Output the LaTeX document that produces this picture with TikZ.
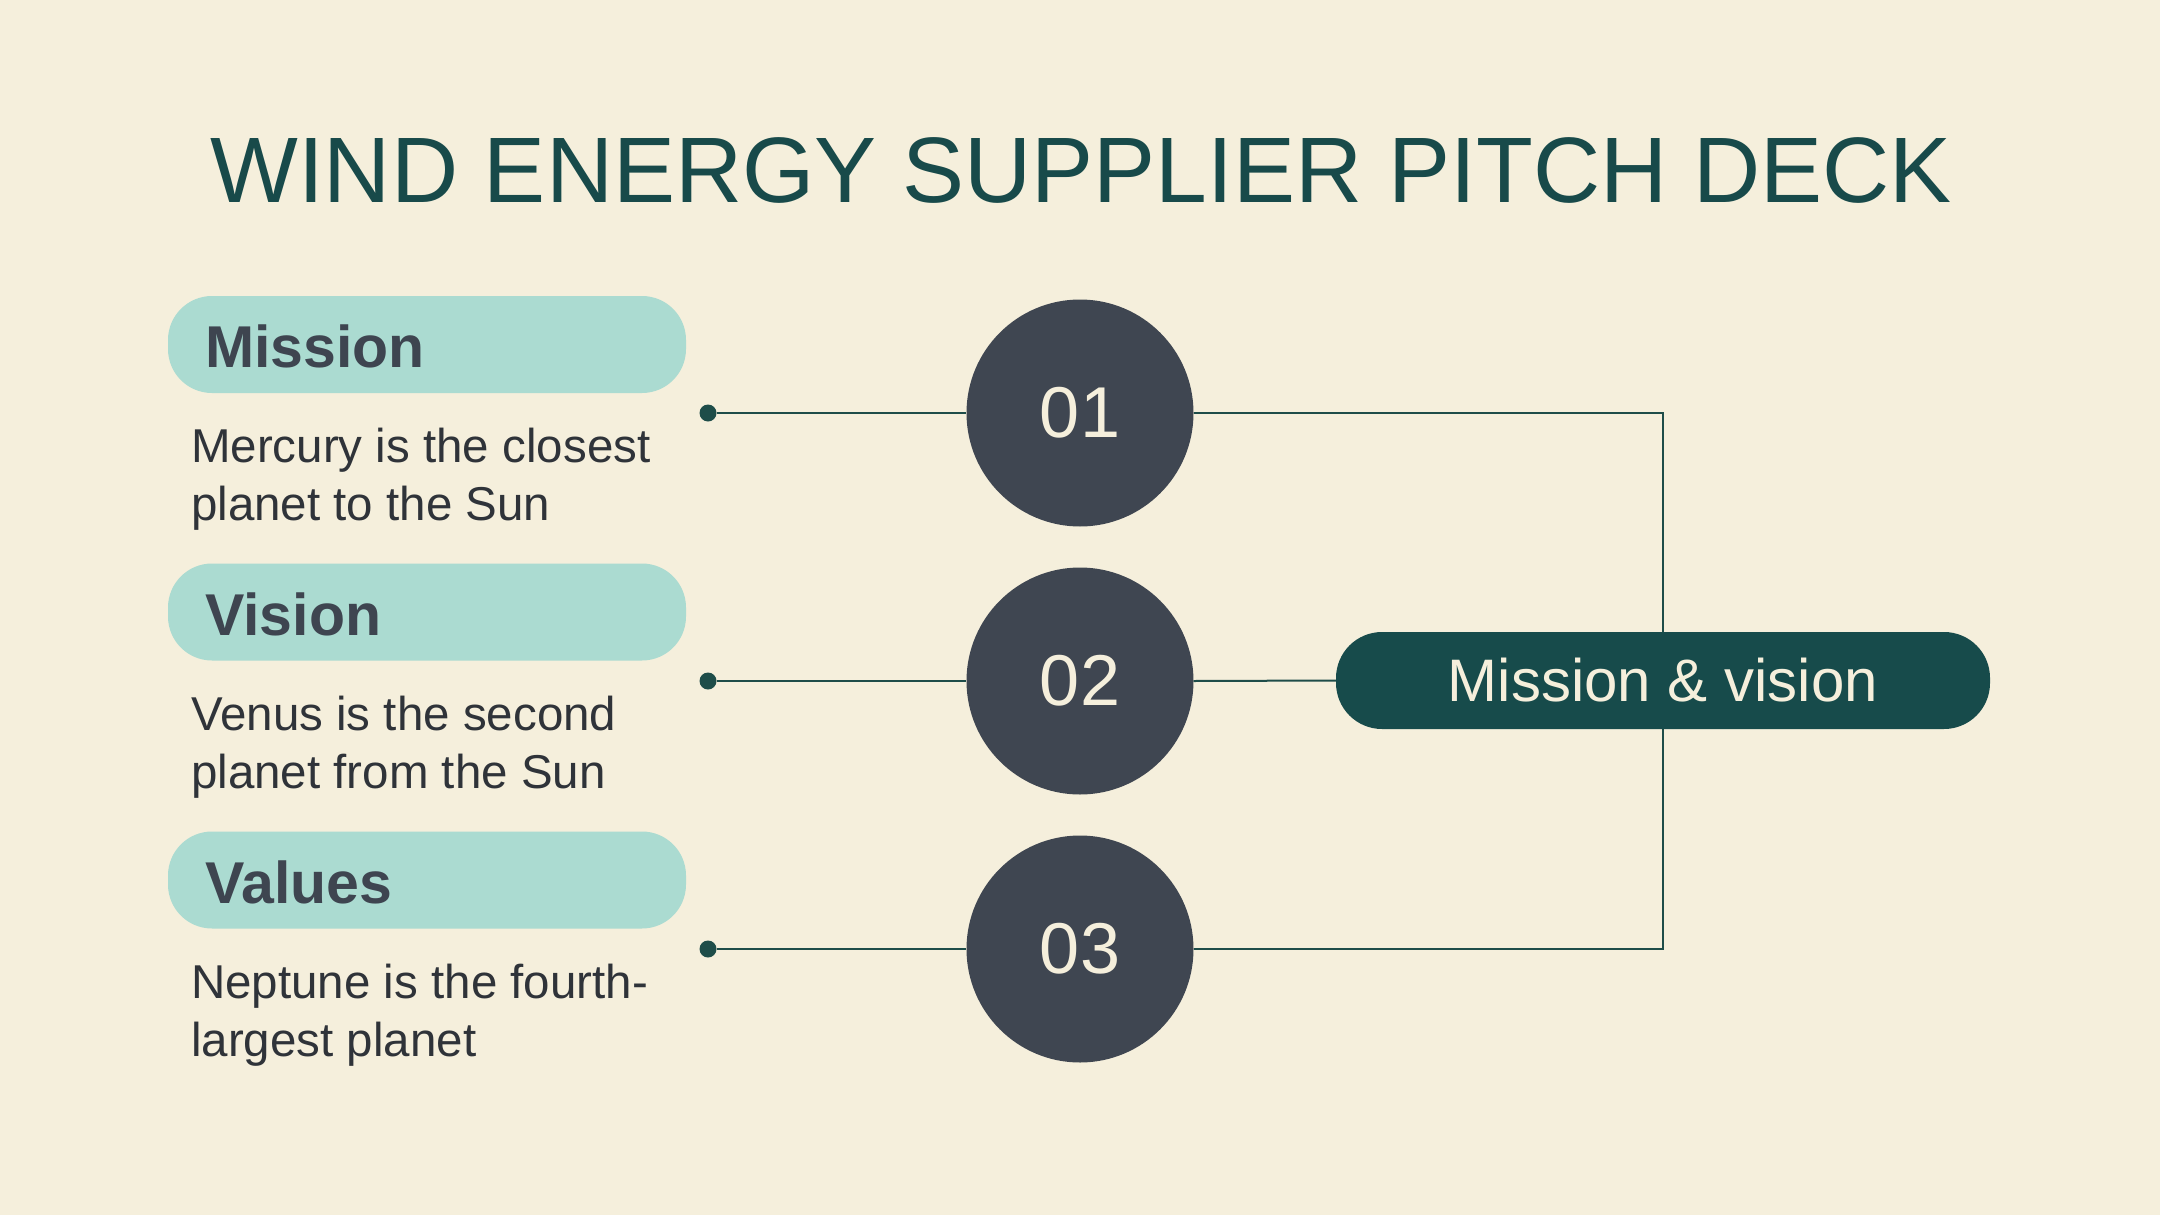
\documentclass[tikz,border=0pt]{standalone}
\usepackage{fontspec}
\setmainfont{Liberation Sans}
\definecolor{bgc}{HTML}{F5EFDC}
\definecolor{titlec}{HTML}{184A4A}
\definecolor{mintc}{HTML}{ABDBD1}
\definecolor{slatec}{HTML}{3F4651}
\definecolor{labelc}{HTML}{3E4550}
\definecolor{bodyc}{HTML}{2F3339}
\definecolor{boxc}{HTML}{174B4B}
\definecolor{linec}{HTML}{1E4D49}
\newcommand{\numtext}[1]{\raisebox{-3pt}{#1}}
\begin{document}
\begin{tikzpicture}[x=1pt,y=-1pt,
  pill/.style={rectangle, rounded corners=44pt, fill=mintc, minimum width=518pt, minimum height=97pt, inner sep=0pt},
  pilllabel/.style={anchor=base west, inner sep=0pt, text=labelc, font=\fontsize{59}{64}\selectfont\bfseries},
  bodyline/.style={anchor=base west, inner sep=0pt, text=bodyc, font=\fontsize{47.5}{58}\selectfont},
  numcirc/.style={circle, fill=slatec, minimum size=227pt, inner sep=0pt, text=bgc, font=\fontsize{72}{80}\selectfont},
  dotnode/.style={circle, fill=linec, minimum size=17pt, inner sep=0pt},
  conn/.style={draw=linec, line width=2pt},
  mainbox/.style={rectangle, rounded corners=46pt, fill=boxc, minimum width=654pt, minimum height=97pt, inner sep=0pt, text=bgc, font=\fontsize{60}{66}\selectfont}
]
\fill[bgc] (0,0) rectangle (2160,1215);
\useasboundingbox (0,0) rectangle (2160,1215);

\node[anchor=base, inner sep=0pt, text=titlec, font=\fontsize{93}{100}\selectfont] (title) at (1081,202) {WIND ENERGY SUPPLIER PITCH DECK};

% pills
\node[pill] (p1) at (427,344.5) {};
\node[pill] (p2) at (427,612) {};
\node[pill] (p3) at (427,880) {};
\node[pilllabel] (l1) at (205,367) {Mission};
\node[pilllabel] (l2) at (205,635) {Vision};
\node[pilllabel] (l3) at (205,903) {Values};

% descriptions
\node[bodyline] (t1a) at (191,462) {Mercury is the closest};
\node[bodyline] (t1b) at (191,520) {planet to the Sun};
\node[bodyline] (t2a) at (191,730) {Venus is the second};
\node[bodyline] (t2b) at (191,788) {planet from the Sun};
\node[bodyline] (t3a) at (191,998) {Neptune is the fourth-};
\node[bodyline] (t3b) at (191,1056) {largest planet};

% dots and circles
\node[dotnode] (d1) at (708,413) {};
\node[dotnode] (d2) at (708,681) {};
\node[dotnode] (d3) at (708,949) {};
\node[numcirc] (c1) at (1080,413) {\numtext{01}};
\node[numcirc] (c2) at (1080,681) {\numtext{02}};
\node[numcirc] (c3) at (1080,949) {\numtext{03}};

\node[mainbox] (mv) at (1663,680.5) {Mission \& vision};

% connectors
\draw[conn] (d1.east) -- (c1.west);
\draw[conn] (d2.east) -- (c2.west);
\draw[conn] (d3.east) -- (c3.west);
\draw[conn] (c1.east) -| (mv.north);
\draw[conn] (c3.east) -| (mv.south);
\draw[conn] (c2.east) -- (mv.west);
\end{tikzpicture}
\end{document}
